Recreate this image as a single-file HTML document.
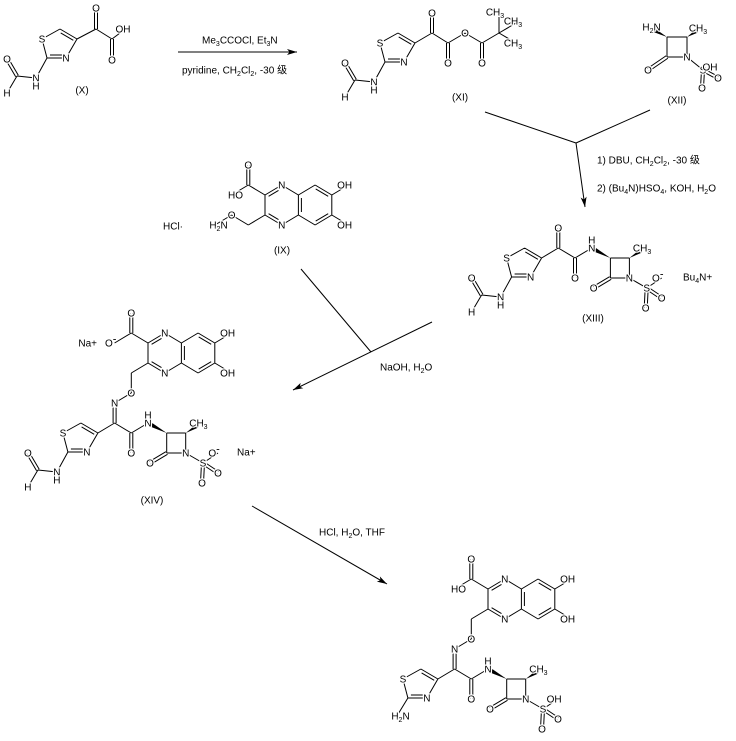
<!DOCTYPE html>
<html>
<head>
<meta charset="utf-8">
<style>
html,body{margin:0;padding:0;background:#fff;}
svg{display:block;}
.b{stroke:#000;stroke-width:1;fill:none;}
.w{fill:#000;stroke:none;}
text{font-family:"Liberation Sans","Noto Sans CJK SC",sans-serif;font-size:10px;fill:#000;}
.l text{text-anchor:middle;stroke:#fff;stroke-width:2.5px;paint-order:stroke;stroke-linejoin:round;}
</style>
</head>
<body>
<svg width="736" height="741" viewBox="0 0 736 741" xmlns="http://www.w3.org/2000/svg">
<defs>
<marker id="a" markerWidth="11" markerHeight="7" refX="10" refY="3.5" orient="auto" markerUnits="userSpaceOnUse"><path d="M0,0.5L10,3.5L0,6.5L2.5,3.5z" fill="#000"/></marker>
</defs>

<!-- ================= (X) ================= -->
<g transform="translate(77,39)">
<path class="b" d="M0,0L-17,-10M-3.7,1.3L-16.3,-6.1M-17,-10L-35,0M-35,0L-30,19M-30,19L-11,19M-27,16L-15,16M-11,19L0,0M-30,19L-41,39M-41,39L-60,37M-58.7,36.2L-68.7,19.2M-61.3,37.8L-71.3,20.8M-60,37L-70,54"/>
<g class="l"><text x="-35" y="3.6">S</text><text x="-11" y="22.6">N</text><text x="-41" y="42.6">N</text><text x="-41" y="50.6">H</text><text x="-70" y="23.6">O</text><text x="-70" y="57.6">H</text></g>
</g>
<path class="b" d="M77,39L96,29M94.5,29L94.5,8M97.5,29L97.5,8M96,29L112,39M110.5,39L110.5,60M113.5,39L113.5,60M112,39L124,30"/>
<g class="l"><text x="96" y="11.6">O</text><text x="112" y="63.6">O</text><text x="123" y="32.6" text-anchor="start">OH</text></g>
<text x="82" y="93.6" text-anchor="middle">(X)</text>

<!-- arrow 1 -->
<line class="b" x1="178" y1="52" x2="297" y2="52" marker-end="url(#a)"/>
<text x="202" y="43.6">Me<tspan font-size="7" dy="2.5">3</tspan><tspan dy="-2.5">CCOCl, Et</tspan><tspan font-size="7" dy="2.5">3</tspan><tspan dy="-2.5">N</tspan></text>
<text x="182" y="73.6">pyridine, CH<tspan font-size="7" dy="2.5">2</tspan><tspan dy="-2.5">Cl</tspan><tspan font-size="7" dy="2.5">2</tspan><tspan dy="-2.5">, -30 级</tspan></text>

<!-- ================= (XI) ================= -->
<g transform="translate(415,43)">
<path class="b" d="M0,0L-17,-10M-3.7,1.3L-16.3,-6.1M-17,-10L-35,0M-35,0L-30,19M-30,19L-11,19M-27,16L-15,16M-11,19L0,0M-30,19L-41,39M-41,39L-60,37M-58.7,36.2L-68.7,19.2M-61.3,37.8L-71.3,20.8M-60,37L-70,54"/>
<g class="l"><text x="-35" y="3.6">S</text><text x="-11" y="22.6">N</text><text x="-41" y="42.6">N</text><text x="-41" y="50.6">H</text><text x="-70" y="23.6">O</text><text x="-70" y="57.6">H</text></g>
</g>
<path class="b" d="M415,43L432,33M430.5,33L430.5,13M433.5,33L433.5,13M432,33L448,43M446.5,43L446.5,63M449.5,43L449.5,63M448,43L465,33M465,33L482,43M480.5,43L480.5,63M483.5,43L483.5,63M482,43L499,33M499,33L499,17M499,33L516,23M499,33L516,43"/>
<g class="l"><text x="432" y="16.6">O</text><text x="448" y="66.6">O</text><text x="465" y="36.6">O</text><text x="482" y="66.6">O</text>
<text x="495" y="15.6" text-anchor="start">CH<tspan font-size="7" dy="2.5">3</tspan></text>
<text x="513" y="24.6" text-anchor="start">CH<tspan font-size="7" dy="2.5">3</tspan></text>
<text x="513" y="46.6" text-anchor="start">CH<tspan font-size="7" dy="2.5">3</tspan></text></g>
<text x="460" y="100.6" text-anchor="middle">(XI)</text>

<!-- ================= (XII) ================= -->
<path class="b" d="M667,37L687,37M687,37L687,57M687,57L667,57M667,57L667,37M667.86,58.25L648.86,71.25M666.14,55.75L647.14,68.75M687,57L703,70M703,70L714,67M702.3,71.3L717.3,79.3M703.7,68.7L718.7,76.7M701.5,70L700.5,88M704.5,70L703.5,88"/>
<polygon class="w" points="667,37 652.4,31.6 654.2,28.0"/>
<polygon class="w" points="687,37 698.7,32.3 696.7,28.9"/>
<g class="l">
<text x="651.6" y="30.6" text-anchor="end">H<tspan font-size="7" dy="2.5">2</tspan><tspan dy="-2.5">N</tspan></text>
<text x="698" y="31.6" text-anchor="start">CH<tspan font-size="7" dy="2.5">3</tspan></text>
<text x="687" y="60.6">N</text><text x="648" y="73.6">O</text><text x="703" y="73.6">S</text>
<text x="710" y="70.6" text-anchor="start">OH</text>
<text x="718" y="81.6">O</text><text x="702" y="91.6">O</text>
</g>
<text x="677" y="103.6" text-anchor="middle">(XII)</text>

<!-- reaction 2 -->
<path class="b" d="M485,112L576,143M650,110L576,143"/>
<line class="b" x1="576" y1="143" x2="585" y2="207" marker-end="url(#a)"/>
<text x="597" y="163.6">1) DBU, CH<tspan font-size="7" dy="2.5">2</tspan><tspan dy="-2.5">Cl</tspan><tspan font-size="7" dy="2.5">2</tspan><tspan dy="-2.5">, -30 级</tspan></text>
<text x="597" y="191.6">2) (Bu<tspan font-size="7" dy="2.5">4</tspan><tspan dy="-2.5">N)HSO</tspan><tspan font-size="7" dy="2.5">4</tspan><tspan dy="-2.5">, KOH, H</tspan><tspan font-size="7" dy="2.5">2</tspan><tspan dy="-2.5">O</tspan></text>

<!-- ================= (IX) ================= -->
<g transform="translate(265,195)">
<path class="b" d="M0,0L16.7,-10M3.6,1.3L13.5,-4.6M16.7,-10L33.4,0M33.4,0L33.4,20M36.4,3L36.4,17M33.4,20L16.7,30M0,20L16.7,30M3.6,18.7L13.5,24.6M0,0L0,20M33.4,0L50.1,-10M50.1,-10L66.8,0M50.7,-6.1L63.2,1.3M66.8,0L66.8,20M66.8,20L50.1,30M63.2,18.7L50.7,26.1M50.1,30L33.4,20M0,0L-16.7,-10M-18.2,-10L-18.2,-30M-15.2,-10L-15.2,-30M-16.7,-10L-33.4,0M66.8,0L83.5,-10M66.8,20L83.5,30M0,20L-16.7,30M-16.7,30L-33.4,20M-33.4,20L-50.1,30"/>
<g class="l">
<text x="16.7" y="-6.4">N</text><text x="16.7" y="33.6">N</text><text x="-16.7" y="-26.4">O</text>
<text x="79.6" y="-6.4" text-anchor="start">OH</text><text x="79.6" y="33.6" text-anchor="start">OH</text>
<text x="-29.5" y="3.6" text-anchor="end">HO</text>
<text x="-33.4" y="23.6">O</text>
<text x="-46.5" y="33.6" text-anchor="end">H<tspan font-size="7" dy="2.5">2</tspan><tspan dy="-2.5">N</tspan></text>
</g>
</g>
<text x="163" y="229.6">HCl·</text>
<text x="282" y="253.6" text-anchor="middle">(IX)</text>

<!-- ================= (XIII) ================= -->
<g transform="translate(591.7,168)">
<path class="b" d="M-34.9,60L-34.9,80M-31.9,60L-31.9,80M-33.4,80L-50.1,90M-33.4,80L-16.7,90M-18.2,90L-18.2,110M-15.2,90L-15.2,110M-16.7,90L0,80M18.7,90L37.7,90M37.7,90L37.7,110M37.7,110L18.7,110M18.7,110L18.7,90M19.5,111.3L2.8,121.3M17.9,108.7L1.2,118.7M37.7,110L55,120M55,120L70,110M54.2,121.25L69.2,131.25M55.8,118.75L70.8,128.75M53.5,120L52.5,140M56.5,120L55.5,140"/>
<polygon class="w" points="18.7,90 2.6,83.7 4.4,80.1"/>
<polygon class="w" points="37.7,90 51,84.2 49,80.8"/>
<g transform="translate(-50.1,90)">
<path class="b" d="M0,0L-17,-10M-3.7,1.3L-16.3,-6.1M-17,-10L-35,0M-35,0L-30,19M-30,19L-11,19M-27,16L-15,16M-11,19L0,0M-30,19L-41,39M-41,39L-60,37M-58.7,36.2L-68.7,19.2M-61.3,37.8L-71.3,20.8M-60,37L-70,54"/>
<g class="l"><text x="-35" y="3.6">S</text><text x="-11" y="22.6">N</text><text x="-41" y="42.6">N</text><text x="-41" y="50.6">H</text><text x="-70" y="23.6">O</text><text x="-70" y="57.6">H</text></g>
</g>
<g class="l">
<text x="-33.4" y="63.6">O</text><text x="0" y="83.6">N</text><text x="0" y="75.6">H</text>
<text x="-16.7" y="113.6">O</text>
<text x="50.4" y="83.6" text-anchor="start">CH<tspan font-size="7" dy="2.5">3</tspan></text>
<text x="37.7" y="113.6">N</text><text x="2" y="123.6">O</text><text x="55" y="123.6">S</text>
<text x="66.1" y="113.6" text-anchor="start">O<tspan font-size="11" dy="-4">-</tspan></text>
<text x="70" y="133.6">O</text><text x="54" y="143.6">O</text>
</g>
<text x="91.3" y="112.6">Bu<tspan font-size="7" dy="2.5">4</tspan><tspan dy="-2.5">N+</tspan></text>
</g>
<text x="593" y="321.6" text-anchor="middle">(XIII)</text>

<!-- reaction 3 -->
<path class="b" d="M301,269L371,352"/>
<line class="b" x1="432" y1="322" x2="293" y2="390" marker-end="url(#a)"/>
<text x="380" y="370.3">NaOH, H<tspan font-size="7" dy="2.5">2</tspan><tspan dy="-2.5">O</tspan></text>

<!-- ================= (XIV) ================= -->
<g transform="translate(148,343)">
<path class="b" d="M0,0L16.7,-10M3.6,1.3L13.5,-4.6M16.7,-10L33.4,0M33.4,0L33.4,20M36.4,3L36.4,17M33.4,20L16.7,30M0,20L16.7,30M3.6,18.7L13.5,24.6M0,0L0,20M33.4,0L50.1,-10M50.1,-10L66.8,0M50.7,-6.1L63.2,1.3M66.8,0L66.8,20M66.8,20L50.1,30M63.2,18.7L50.7,26.1M50.1,30L33.4,20M0,0L-16.7,-10M-18.2,-10L-18.2,-30M-15.2,-10L-15.2,-30M-16.7,-10L-33.4,0M66.8,0L83.5,-10M66.8,20L83.5,30M0,20L-16.7,30"/>
<path class="b" d="M-16.7,30L-16.7,50M-16.7,50L-33.4,60M-34.9,60L-34.9,80M-31.9,60L-31.9,80M-33.4,80L-50.1,90M-33.4,80L-16.7,90M-18.2,90L-18.2,110M-15.2,90L-15.2,110M-16.7,90L0,80M18.7,90L37.7,90M37.7,90L37.7,110M37.7,110L18.7,110M18.7,110L18.7,90M19.5,111.3L2.8,121.3M17.9,108.7L1.2,118.7M37.7,110L55,120M55,120L70,110M54.2,121.25L69.2,131.25M55.8,118.75L70.8,128.75M53.5,120L52.5,140M56.5,120L55.5,140"/>
<polygon class="w" points="18.7,90 2.6,83.7 4.4,80.1"/>
<polygon class="w" points="37.7,90 51,84.2 49,80.8"/>
<g transform="translate(-50.1,90)">
<path class="b" d="M0,0L-17,-10M-3.7,1.3L-16.3,-6.1M-17,-10L-35,0M-35,0L-30,19M-30,19L-11,19M-27,16L-15,16M-11,19L0,0M-30,19L-41,39M-41,39L-60,37M-58.7,36.2L-68.7,19.2M-61.3,37.8L-71.3,20.8M-60,37L-70,54"/>
<g class="l"><text x="-35" y="3.6">S</text><text x="-11" y="22.6">N</text><text x="-41" y="42.6">N</text><text x="-41" y="50.6">H</text><text x="-70" y="23.6">O</text><text x="-70" y="57.6">H</text></g>
</g>
<g class="l">
<text x="16.7" y="-6.4">N</text><text x="16.7" y="33.6">N</text><text x="-16.7" y="-26.4">O</text>
<text x="79.6" y="-6.4" text-anchor="start">OH</text><text x="79.6" y="33.6" text-anchor="start">OH</text>
<text x="-37.3" y="3.6" text-anchor="start">O<tspan font-size="11" dy="-4">-</tspan></text>
<text x="-16.7" y="53.6">O</text><text x="-33.4" y="63.6">N</text>
<text x="0" y="83.6">N</text><text x="0" y="75.6">H</text>
<text x="-16.7" y="113.6">O</text>
<text x="50.4" y="83.6" text-anchor="start">CH<tspan font-size="7" dy="2.5">3</tspan></text>
<text x="37.7" y="113.6">N</text><text x="2" y="123.6">O</text><text x="55" y="123.6">S</text>
<text x="66.1" y="113.6" text-anchor="start">O<tspan font-size="11" dy="-4">-</tspan></text>
<text x="70" y="133.6">O</text><text x="54" y="143.6">O</text>
</g>
<text x="-51" y="3.6" text-anchor="end">Na+</text>
<text x="89" y="112.6">Na+</text>
</g>
<text x="152" y="503.6" text-anchor="middle">(XIV)</text>

<!-- reaction 4 -->
<line class="b" x1="252" y1="506" x2="387" y2="584" marker-end="url(#a)"/>
<text x="319" y="535.3">HCl, H<tspan font-size="7" dy="2.5">2</tspan><tspan dy="-2.5">O, THF</tspan></text>

<!-- ================= final product ================= -->
<g transform="translate(488,589)">
<path class="b" d="M0,0L16.7,-10M3.6,1.3L13.5,-4.6M16.7,-10L33.4,0M33.4,0L33.4,20M36.4,3L36.4,17M33.4,20L16.7,30M0,20L16.7,30M3.6,18.7L13.5,24.6M0,0L0,20M33.4,0L50.1,-10M50.1,-10L66.8,0M50.7,-6.1L63.2,1.3M66.8,0L66.8,20M66.8,20L50.1,30M63.2,18.7L50.7,26.1M50.1,30L33.4,20M0,0L-16.7,-10M-18.2,-10L-18.2,-30M-15.2,-10L-15.2,-30M-16.7,-10L-33.4,0M66.8,0L83.5,-10M66.8,20L83.5,30M0,20L-16.7,30"/>
<path class="b" d="M-16.7,30L-16.7,50M-16.7,50L-33.4,60M-34.9,60L-34.9,80M-31.9,60L-31.9,80M-33.4,80L-50.1,90M-33.4,80L-16.7,90M-18.2,90L-18.2,110M-15.2,90L-15.2,110M-16.7,90L0,80M18.7,90L37.7,90M37.7,90L37.7,110M37.7,110L18.7,110M18.7,110L18.7,90M19.5,111.3L2.8,121.3M17.9,108.7L1.2,118.7M37.7,110L55,120M55,120L70,110M54.2,121.25L69.2,131.25M55.8,118.75L70.8,128.75M53.5,120L52.5,140M56.5,120L55.5,140"/>
<polygon class="w" points="18.7,90 2.6,83.7 4.4,80.1"/>
<polygon class="w" points="37.7,90 51,84.2 49,80.8"/>
<g transform="translate(-50.1,90)">
<path class="b" d="M0,0L-17,-10M-3.7,1.3L-16.3,-6.1M-17,-10L-35,0M-35,0L-30,19M-30,19L-11,19M-27,16L-15,16M-11,19L0,0M-30,19L-41,37"/>
<g class="l"><text x="-35" y="3.6">S</text><text x="-11" y="22.6">N</text>
<text x="-37.4" y="40.6" text-anchor="end">H<tspan font-size="7" dy="2.5">2</tspan><tspan dy="-2.5">N</tspan></text></g>
</g>
<g class="l">
<text x="16.7" y="-6.4">N</text><text x="16.7" y="33.6">N</text><text x="-16.7" y="-26.4">O</text>
<text x="79.6" y="-6.4" text-anchor="start">OH</text><text x="79.6" y="33.6" text-anchor="start">OH</text>
<text x="-29.5" y="3.6" text-anchor="end">HO</text>
<text x="-16.7" y="53.6">O</text><text x="-33.4" y="63.6">N</text>
<text x="0" y="83.6">N</text><text x="0" y="75.6">H</text>
<text x="-16.7" y="113.6">O</text>
<text x="50.4" y="83.6" text-anchor="start">CH<tspan font-size="7" dy="2.5">3</tspan></text>
<text x="37.7" y="113.6">N</text><text x="2" y="123.6">O</text><text x="55" y="123.6">S</text>
<text x="66.1" y="113.6" text-anchor="start">OH</text>
<text x="70" y="133.6">O</text><text x="54" y="143.6">O</text>
</g>
</g>
</svg>
</body>
</html>
